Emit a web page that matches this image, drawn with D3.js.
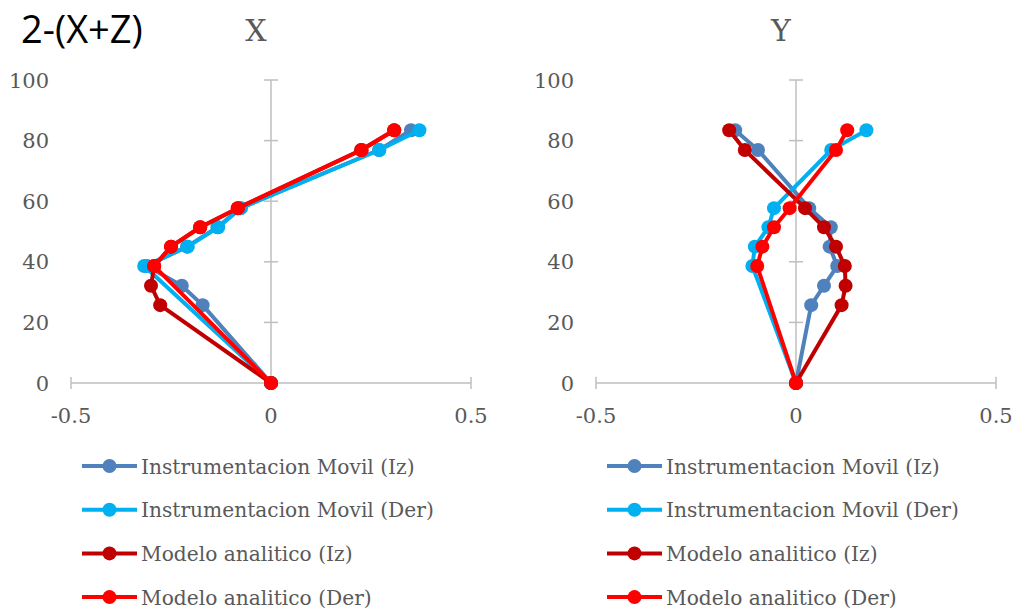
<!DOCTYPE html>
<html><head><meta charset="utf-8">
<script src="https://cdn.jsdelivr.net/npm/d3@7"></script>
<style>body{margin:0;background:#fff}svg{display:block}</style>
</head><body>
<svg id="c" width="1012" height="610"></svg>
<script>
const seriesNames = ["Instrumentacion Movil (Iz)", "Instrumentacion Movil (Der)", "Modelo analitico (Iz)", "Modelo analitico (Der)"];
const seriesColors = ["#4F81BD", "#00B0F0", "#C00000", "#FF0000"];
const heightsIz = [0, 25.7, 32.1, 38.6, 45.0, 51.4, 57.7, 76.9, 83.4];
const heightsDer = [0, 38.6, 45.0, 51.4, 57.7, 76.9, 83.4];
// X chart
const xIzInstr = [0, -0.171, -0.223, -0.31, -0.21, -0.134, -0.077, 0.27, 0.35];
const xDerInstr = [0, -0.317, -0.208, -0.132, -0.075, 0.271, 0.371];
const xIzModel = [0, -0.277, -0.30, -0.292, -0.25, -0.177, -0.083, 0.225, 0.308];
const xDerModel = [0, -0.292, -0.25, -0.177, -0.083, 0.227, 0.308];
// Y chart
const yIzInstr = [0, 0.038, 0.07, 0.103, 0.084, 0.087, 0.033, -0.095, -0.152];
const yDerInstr = [0, -0.109, -0.103, -0.069, -0.055, 0.088, 0.176];
const yIzModel = [0, 0.114, 0.124, 0.122, 0.10, 0.07, 0.0225, -0.128, -0.167];
const yDerModel = [0, -0.097, -0.084, -0.055, -0.016, 0.10, 0.128];
const xTicks = [-0.5, 0, 0.5];
const yTicks = [0, 20, 40, 60, 80, 100];

const svg = d3.select("#c");
const serif = "'DejaVu Serif', serif";
const grey = "#595959", axisC = "#BFBFBF";

svg.append("text").attr("x", 21).attr("y", 43).attr("font-family", "'Open Sans', sans-serif")
  .attr("font-size", 38).attr("fill", "#000").text("2-(X+Z)");

function panel(x0, title, data) {
  const xs = d3.scaleLinear().domain([-0.5, 0.5]).range([x0, x0 + 400]);
  const ys = d3.scaleLinear().domain([0, 100]).range([383, 80]);
  const g = svg.append("g");
  g.append("text").attr("x", xs(0) - 15).attr("y", 41).attr("text-anchor", "middle")
    .attr("font-family", serif).attr("font-size", 30).attr("fill", grey).text(title);
  // horizontal axis
  g.append("line").attr("x1", xs(-0.5)).attr("x2", xs(0.5)).attr("y1", ys(0)).attr("y2", ys(0))
    .attr("stroke", axisC).attr("stroke-width", 1.5);
  g.selectAll(".xt").data(xTicks).join("line").attr("x1", d => xs(d)).attr("x2", d => xs(d))
    .attr("y1", ys(0) - 6).attr("y2", ys(0) + 6).attr("stroke", axisC).attr("stroke-width", 1.5);
  g.selectAll(".xl").data(xTicks).join("text").attr("x", d => xs(d)).attr("y", 423)
    .attr("text-anchor", "middle").attr("font-family", serif).attr("font-size", 21).attr("fill", grey)
    .text(d => String(d));
  // vertical axis
  g.append("line").attr("x1", xs(0)).attr("x2", xs(0)).attr("y1", ys(0)).attr("y2", ys(100))
    .attr("stroke", axisC).attr("stroke-width", 1.5);
  g.selectAll(".yt").data(yTicks.filter(d => d > 0)).join("line").attr("x1", xs(0) - 7).attr("x2", xs(0) + 7)
    .attr("y1", d => ys(d)).attr("y2", d => ys(d)).attr("stroke", axisC).attr("stroke-width", 1.5);
  g.selectAll(".yl").data(yTicks).join("text").attr("x", xs(-0.5) - 22).attr("y", d => ys(d) + 7.5)
    .attr("text-anchor", "end").attr("font-family", serif).attr("font-size", 21).attr("fill", grey)
    .text(d => d);
  const line = d3.line().x(d => xs(d[0])).y(d => ys(d[1]));
  data.forEach((s, i) => {
    const pts = s.vals.map((v, k) => [v, s.h[k]]);
    g.append("path").attr("d", line(pts)).attr("fill", "none").attr("stroke", seriesColors[i])
      .attr("stroke-width", 4).attr("stroke-linejoin", "round");
    g.selectAll(null).data(pts).join("circle").attr("cx", d => xs(d[0])).attr("cy", d => ys(d[1]))
      .attr("r", 7).attr("fill", seriesColors[i]);
  });
  // legend
  const lx = x0 + 11;
  seriesNames.forEach((n, i) => {
    const y = 466 + i * 43.7;
    g.append("line").attr("x1", lx).attr("x2", lx + 55).attr("y1", y).attr("y2", y)
      .attr("stroke", seriesColors[i]).attr("stroke-width", 4);
    g.append("circle").attr("cx", lx + 27.5).attr("cy", y).attr("r", 7).attr("fill", seriesColors[i]);
    g.append("text").attr("x", lx + 59).attr("y", y + 7.5).attr("font-family", serif).attr("font-size", 20.2)
      .attr("fill", grey).text(n);
  });
}
panel(71, "X", [
  {vals: xIzInstr, h: heightsIz}, {vals: xDerInstr, h: heightsDer},
  {vals: xIzModel, h: heightsIz}, {vals: xDerModel, h: heightsDer}]);
panel(596, "Y", [
  {vals: yIzInstr, h: heightsIz}, {vals: yDerInstr, h: heightsDer},
  {vals: yIzModel, h: heightsIz}, {vals: yDerModel, h: heightsDer}]);
</script>
</body></html>
